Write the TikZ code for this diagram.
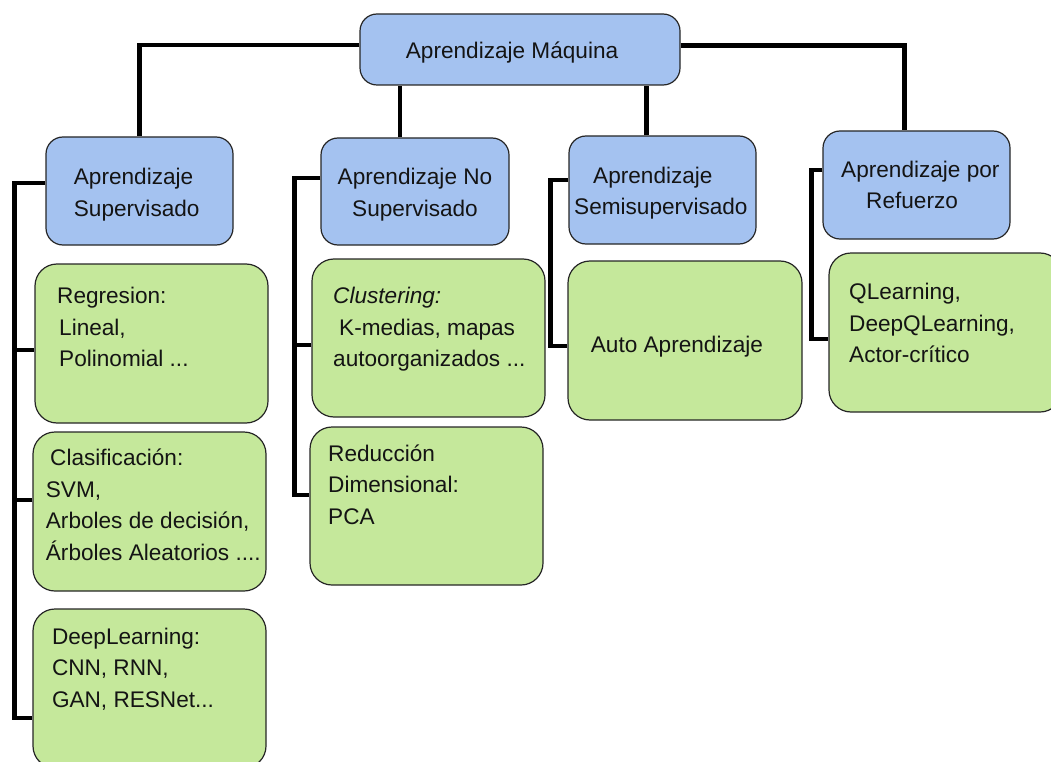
\documentclass[tikz,border=0pt]{standalone}
\usepackage{fontspec}
\setmainfont{Liberation Sans}
\usepackage{tikz}
\definecolor{mlblue}{RGB}{164,194,240}
\definecolor{mlgreen}{RGB}{197,232,155}

\begin{document}
\begin{tikzpicture}[x=1pt,y=-1pt,
  blk/.style={draw=black!85,line width=1.2pt,rounded corners=17pt,fill=mlblue,inner sep=0pt},
  grn/.style={draw=black!85,line width=1.2pt,rounded corners=22pt,fill=mlgreen,inner sep=0pt},
  txt/.style={inner sep=0pt,anchor=base west,align=left,text=black!92,font=\fontsize{22.6}{31.5}\selectfont},
  conn/.style={line width=4.5pt}]
\useasboundingbox (0,0) rectangle (1051,762);
\clip (0,0) rectangle (1051,762);

\node[blk,minimum width=320pt,minimum height=71pt] (ml) at (520,49.5) {};
\node[blk,minimum width=187pt,minimum height=108pt] (sup) at (139.5,191) {};
\node[blk,minimum width=188pt,minimum height=107pt] (nosup) at (415,191.5) {};
\node[blk,minimum width=187pt,minimum height=108pt] (semi) at (662.5,190) {};
\node[blk,minimum width=187pt,minimum height=108pt] (ref) at (916.5,185) {};

\node[grn,minimum width=233pt,minimum height=159pt] (reg) at (151.5,343.5) {};
\node[grn,minimum width=233pt,minimum height=159pt] (clas) at (149.5,511.5) {};
\node[grn,minimum width=233pt,minimum height=159pt] (deep) at (149.5,688.5) {};
\node[grn,minimum width=233pt,minimum height=158pt] (clus) at (428.5,338) {};
\node[grn,minimum width=233pt,minimum height=158pt] (red) at (426.5,506) {};
\node[grn,minimum width=234pt,minimum height=159pt] (auto) at (685,340.5) {};
\node[grn,minimum width=233pt,minimum height=159pt] (ql) at (945.5,332.5) {};

\draw[conn] ([yshift=4.5pt]ml.west) -| (sup.north);
\draw[conn] ([xshift=-15pt]nosup.north) -- ([xshift=-15pt]nosup.north |- ml.south);
\draw[conn] ([xshift=-16pt]semi.north) -- ([xshift=-16pt]semi.north |- ml.south);
\draw[conn] ([yshift=4pt]ml.east) -| ([xshift=-12pt]ref.north);

\draw[conn] ([yshift=8pt]sup.west) -| ([xshift=-18pt,yshift=-29.5pt]deep.west) -- ([yshift=-29.5pt]deep.west);
\draw[conn] ([yshift=-6.5pt]reg.west) -- ++(-20,0);
\draw[conn] ([yshift=11.5pt]clas.west) -- ++(-18,0);
\draw[conn] ([yshift=13.5pt]nosup.west) -| ([xshift=-15pt,yshift=11pt]red.west) -- ([yshift=11pt]red.west);
\draw[conn] ([yshift=-7pt]clus.west) -- ++(-17,0);
\draw[conn] ([yshift=10pt]semi.west) -| ([xshift=-17pt,yshift=-5.5pt]auto.west) -- ([yshift=-5.5pt]auto.west);
\draw[conn] ([yshift=15pt]ref.west) -| ([xshift=-17pt,yshift=-6.5pt]ql.west) -- ([yshift=-6.5pt]ql.west);

% base = last line
\node[txt] (ml-t) at (405.7,59) {Aprendizaje Máquina};
\node[txt] (sup-t) at (73.7,216) {Aprendizaje\\Supervisado};
\node[txt,anchor=base,align=center] (nosup-t) at (415,216) {Aprendizaje No\\Supervisado};
\node[txt] (semi-t) at (574,214.5) {\hspace*{19pt}Aprendizaje\\Semisupervisado};
\node[txt] (ref-t) at (841,208.5) {Aprendizaje por\\\hspace*{25pt}Refuerzo};
\node[txt] (reg-t) at (57,366.5) {Regresion:\\\hspace*{2pt}Lineal,\\\hspace*{2pt}Polinomial ...};
\node[txt] (clas-t) at (45.7,560) {\hspace*{4.3pt}Clasificación:\\SVM,\\Arboles de decisión,\\Árboles Aleatorios ....};
\node[txt] (deep-t) at (51.8,707) {DeepLearning:\\CNN, RNN,\\GAN, RESNet...};
\node[txt] (clus-t) at (333,366.5) {\textit{Clustering:}\\\hspace*{6pt}K-medias, mapas\\autoorganizados ...};
\node[txt] (red-t) at (328,524) {Reducción\\Dimensional:\\PCA};
\node[txt] (auto-t) at (590.7,352) {Auto Aprendizaje};
\node[txt] (ql-t) at (849,362.5) {QLearning,\\DeepQLearning,\\Actor-crítico};
\end{tikzpicture}
\end{document}
